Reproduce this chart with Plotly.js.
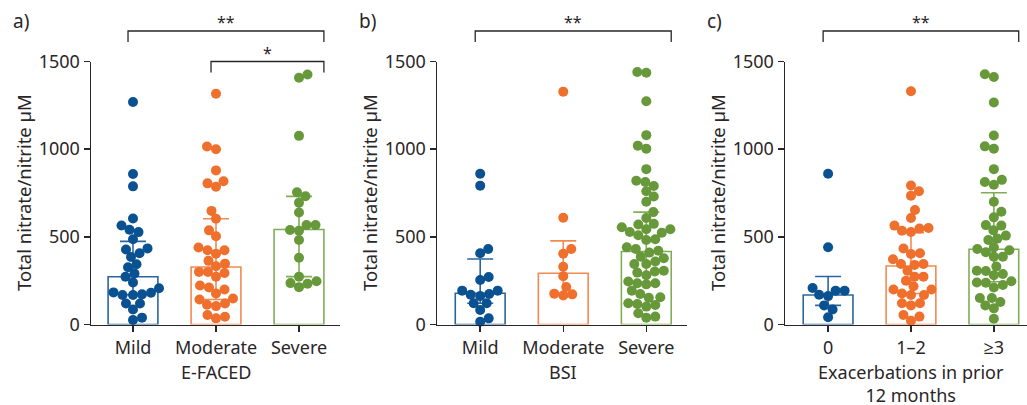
<!DOCTYPE html>
<html>
<head>
<meta charset="utf-8">
<script src="https://cdn.plot.ly/plotly-3.0.1.min.js"></script>
<style>
  html, body { margin: 0; padding: 0; background: #ffffff; }
  #chart { width: 1027px; height: 405px; }
</style>
</head>
<body>
<div id="chart"></div>
<script>
// ---- Data: total nitrate/nitrite (µM) per patient, by severity grouping ----

// a) E-FACED score
const efacedLabels = ['Mild', 'Moderate', 'Severe'];
const efacedMild = [1269, 858, 788, 605, 565, 540, 527, 486, 434, 406, 428, 385, 344, 327, 291, 272,
  240, 207, 168, 172, 183, 168, 181, 86, 120, 120, 39, 26];
const efacedModerate = [1316, 1015, 1000, 879, 805, 786, 817, 648, 603, 537, 503, 439, 423, 423, 404,
  363, 347, 332, 300, 272, 300, 294, 211, 177, 200, 222, 148, 143, 105, 120, 113, 35, 44, 54];
const efacedSevere = [1407, 1426, 1076, 754, 731, 695, 639, 567, 567, 535, 539, 482, 381, 273, 247,
  236, 232, 213];
const efacedMedian = [272, 328, 542];
const efacedQ1 = [170, 143, 273];
const efacedQ3 = [474, 603, 731];

// b) BSI score
const bsiLabels = ['Mild', 'Moderate', 'Severe'];
const bsiMild = [860, 792, 431, 406, 254, 271, 170, 193, 162, 174, 193, 121, 121, 83, 35, 16];
const bsiModerate = [1328, 609, 404, 431, 329, 275, 214, 165, 172, 176];
const bsiSevere = [1436, 1440, 1273, 1080, 1003, 1020, 886, 820, 813, 760, 790, 730, 700, 641, 607,
  574, 543, 543, 570, 555, 524, 528, 486, 482, 509, 431, 410, 441, 421, 387, 378, 345, 345, 359, 302,
  296, 281, 307, 245, 235, 235, 229, 193, 174, 155, 152, 111, 121, 117, 102, 45, 64, 39];
const bsiMedian = [178, 292, 416];
const bsiQ1 = [121, 178, 235];
const bsiQ3 = [374, 477, 641];

// c) Exacerbations in the prior 12 months
const exacLabels = ['0', '1\u20132', '\u22653'];
const exacNone = [860, 441, 208, 193, 193, 170, 162, 109, 86, 41];
const exacOneTwo = [1330, 793, 760, 734, 653, 607, 528, 535, 550, 547, 564, 402, 433, 406, 372, 340,
  345, 345, 307, 273, 273, 250, 218, 200, 200, 168, 168, 177, 109, 121, 121, 45, 54, 22];
const exacThreePlus = [1427, 1412, 1266, 1078, 1016, 1003, 886, 797, 813, 825, 700, 643, 611, 567,
  564, 537, 507, 490, 482, 440, 431, 423, 412, 387, 387, 331, 305, 307, 288, 281, 247, 211, 225, 238,
  240, 151, 109, 92, 128, 151, 33];
const exacMedian = [168, 334, 429];
const exacQ1 = [109, 177, 244];
const exacQ3 = [274, 524, 751];

// ---- Appearance ----
const W = 1027, H = 405;
const INK = '#2a2627';
const FONT = '"Noto Sans", "Open Sans", sans-serif';
const dotColors = ['#0a5192', '#ef6f2d', '#67983a'];
const barColors = ['#2b65a0', '#f28a52', '#80ad58'];
const Y_RANGE = [0, 1500];
const Y_DOMAIN_PX = [324.5, 61.5];        // bottom, top (pixels from top)
const BAR_WIDTH = 0.6;
const DOT_SIZE = 10;

const panels = [
  { tag: 'a)', labels: efacedLabels, groups: [efacedMild, efacedModerate, efacedSevere],
    median: efacedMedian, q1: efacedQ1, q3: efacedQ3, title: 'E-FACED',
    domPx: [91, 340], range: [-0.506, 2.494],
    brackets: [{ from: 0, to: 2, row: 0, label: '**' }, { from: 1, to: 2, row: 1, label: '*' }] },
  { tag: 'b)', labels: bsiLabels, groups: [bsiMild, bsiModerate, bsiSevere],
    median: bsiMedian, q1: bsiQ1, q3: bsiQ3, title: 'BSI',
    domPx: [437, 687], range: [-0.52, 2.49],
    brackets: [{ from: 0, to: 2, row: 0, label: '**' }] },
  { tag: 'c)', labels: exacLabels, groups: [exacNone, exacOneTwo, exacThreePlus],
    median: exacMedian, q1: exacQ1, q3: exacQ3, title: 'Exacerbations in prior<br>12 months',
    domPx: [785, 1027], range: [-0.52, 2.40],
    brackets: [{ from: 0, to: 2, row: 0, label: '**' }] }
];

const px2paperY = py => (H - py) / H;
const yDomain = [px2paperY(Y_DOMAIN_PX[0]), px2paperY(Y_DOMAIN_PX[1])];
const pxPerUnit = (Y_DOMAIN_PX[0] - Y_DOMAIN_PX[1]) / (Y_RANGE[1] - Y_RANGE[0]);

// Beeswarm layout: each dot is pushed sideways just enough not to overlap
// the dots already placed (values handled from lowest to highest).
function swarmOffsets(values, pxPerCat, minDist) {
  const order = values.map((v, i) => i).sort((a, b) => values[a] - values[b]);
  const placed = [];
  const offsets = new Array(values.length);
  order.forEach((i, k) => {
    const y = values[i] * pxPerUnit;
    let chosen = 0;
    for (let s = 0; s < 300; s += 0.5) {
      const cands = s === 0 ? [0] : (k % 2 ? [s, -s] : [-s, s]);
      let hit = null;
      for (const c of cands) {
        if (placed.every(p => (p.x - c) * (p.x - c) + (p.y - y) * (p.y - y) >= minDist * minDist)) {
          hit = c; break;
        }
      }
      if (hit !== null) { chosen = hit; break; }
    }
    placed.push({ x: chosen, y: y });
    offsets[i] = chosen / pxPerCat;
  });
  return offsets;
}

const traces = [];
const layout = {
  width: W, height: H,
  margin: { l: 0, r: 0, t: 0, b: 0 },
  paper_bgcolor: '#ffffff', plot_bgcolor: 'rgba(0,0,0,0)',
  showlegend: false, barmode: 'overlay',
  font: { family: FONT, size: 18, color: INK },
  shapes: [], annotations: []
};

panels.forEach((p, pi) => {
  const sfx = pi === 0 ? '' : String(pi + 1);
  const xa = 'x' + sfx, ya = 'y' + sfx;
  const pxPerCat = (p.domPx[1] - p.domPx[0]) / (p.range[1] - p.range[0]);

  layout['xaxis' + sfx] = {
    domain: [p.domPx[0] / W, p.domPx[1] / W], range: p.range, anchor: ya,
    showline: true, linecolor: INK, linewidth: 1.5, mirror: false,
    ticks: 'outside', ticklen: 6, tickwidth: 1.5, tickcolor: INK,
    tickvals: [0, 1, 2], ticktext: p.labels, tickfont: { size: 18, color: INK, family: FONT },
    showgrid: false, zeroline: false, fixedrange: true
  };
  layout['yaxis' + sfx] = {
    domain: yDomain, range: Y_RANGE, anchor: xa,
    showline: true, linecolor: INK, linewidth: 1.5,
    ticks: 'outside', ticklen: 6, tickwidth: 1.5, tickcolor: INK,
    tickvals: [0, 500, 1000, 1500], tickfont: { size: 18, color: INK, family: FONT },
    showgrid: false, zeroline: false, fixedrange: true
  };

  p.groups.forEach((vals, gi) => {
    // median bar with interquartile range
    traces.push({
      type: 'bar', xaxis: xa, yaxis: ya,
      x: [gi], y: [p.median[gi]], width: BAR_WIDTH,
      marker: { color: 'rgba(255,255,255,0)', line: { color: barColors[gi], width: 1.6 } },
      error_y: { type: 'data', symmetric: false,
        array: [p.q3[gi] - p.median[gi]], arrayminus: [p.median[gi] - p.q1[gi]],
        color: barColors[gi], thickness: 1.6, width: 13 },
      hoverinfo: 'skip'
    });
    // individual patients
    const off = swarmOffsets(vals, pxPerCat, DOT_SIZE - 1);
    traces.push({
      type: 'scatter', mode: 'markers', xaxis: xa, yaxis: ya,
      x: vals.map((v, i) => gi + off[i]), y: vals,
      marker: { size: DOT_SIZE, color: dotColors[gi], line: { width: 0 } },
      cliponaxis: false, hoverinfo: 'y'
    });
  });

  // y-axis title
  layout.annotations.push({
    xref: 'paper', yref: 'paper',
    x: (p.domPx[0] - 68) / W, y: (yDomain[0] + yDomain[1]) / 2,
    text: 'Total nitrate/nitrite \u00b5M', textangle: -90, showarrow: false,
    xanchor: 'center', yanchor: 'middle', font: { size: 18.5, color: INK, family: FONT }
  });
  // x-axis title, centred under the middle group
  layout.annotations.push({
    xref: xa, yref: 'paper', x: 1, y: px2paperY(358),
    text: p.title, showarrow: false, xanchor: 'center', yanchor: 'top',
    font: { size: 18, color: INK, family: FONT }
  });
  // panel tag
  layout.annotations.push({
    xref: 'paper', yref: 'paper', x: (p.domPx[0] - 80) / W, y: px2paperY(21),
    text: p.tag, showarrow: false, xanchor: 'left', yanchor: 'middle',
    font: { size: 19, color: INK, family: FONT }
  });

  // significance brackets
  p.brackets.forEach(b => {
    const x0 = b.from - 0.06, x1 = b.to + BAR_WIDTH / 2;
    const yTop = px2paperY(31 + b.row * 30.5), yFoot = px2paperY(42 + b.row * 30.5);
    layout.shapes.push({
      type: 'path', xref: xa, yref: 'paper',
      path: `M ${x0},${yFoot} L ${x0},${yTop} L ${x1},${yTop} L ${x1},${yFoot}`,
      line: { color: INK, width: 1.3 }
    });
    layout.annotations.push({
      xref: xa, yref: 'paper', x: (x0 + x1) / 2, y: px2paperY(22 + b.row * 30.5),
      text: b.label, showarrow: false, xanchor: 'center', yanchor: 'middle',
      font: { size: 16, color: INK, family: FONT }
    });
  });
});

Plotly.newPlot('chart', traces, layout, { displayModeBar: false, staticPlot: true });
</script>
</body>
</html>
